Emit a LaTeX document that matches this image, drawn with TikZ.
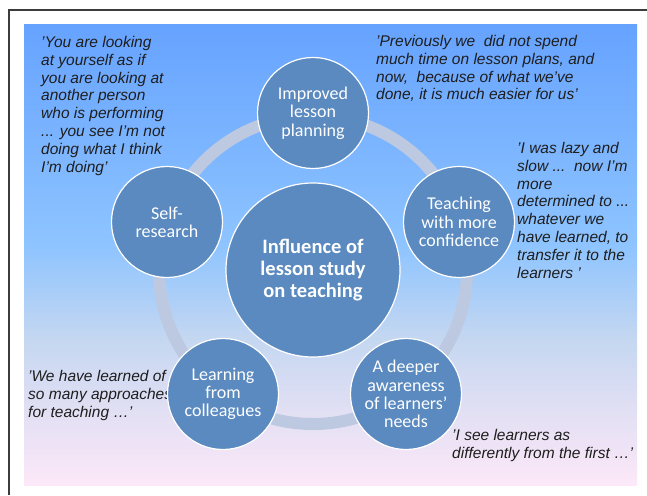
\documentclass[tikz,border=0pt]{standalone}
\usepackage{fontspec}
\setmainfont{Liberation Sans}
\newfontfamily\carlito{Carlito}
\usetikzlibrary{positioning, calc}
\definecolor{bubblec}{HTML}{5A8AC0}
\definecolor{ringc}{HTML}{BCC9E0}
\definecolor{skytop}{HTML}{66A3FF}
\definecolor{skymid}{HTML}{8EC4FF}
\definecolor{skylow}{HTML}{C4D7F1}
\definecolor{skymist}{HTML}{E4E0F4}
\definecolor{skybot}{HTML}{FCE8F8}
\definecolor{quotec}{HTML}{1E1E1E}
\definecolor{framec}{HTML}{3C3C3C}
% the shaded path covers 25bp to 75bp of the shading
\pgfdeclareverticalshading{sky}{100bp}{color(0bp)=(skybot); color(25bp)=(skybot);
  color(32.5bp)=(skymist); color(41bp)=(skylow); color(51bp)=(skymid);
  color(75bp)=(skytop); color(100bp)=(skytop)}
\tikzstyle{bubble} = [circle, fill=bubblec, draw=white, line width=1.2pt,
  minimum size=111pt, inner sep=0pt, text=white, align=center,
  font=\carlito\fontsize{18}{18.3}\selectfont]
\tikzstyle{hub} = [bubble, minimum size=174pt,
  font=\carlito\bfseries\fontsize{20.5}{21.7}\selectfont]
\tikzstyle{saying} = [anchor=north west, inner sep=0pt, align=left,
  text=quotec, font=\itshape\fontsize{15.5}{17.8}\selectfont]
\tikzstyle{ring} = [draw=ringc, line width=12pt]
\tikzstyle{frame} = [draw=framec, line width=1.2pt]

\begin{document}
\begin{tikzpicture}[x=1pt, y=-1pt]
    \useasboundingbox (0,0) rectangle (647,495);
    %%% Page and slide:
    \draw[frame] (647,10) -- (9,10) -- (9,495);
    \shade[shading=sky] (24,25) rectangle (637,485);
    %%% Ring:
    \coordinate (mid) at (313,270);
    \draw[ring] (mid) circle [radius=154pt];
    %%% Quotes:
    \node[saying] (qself) at (41,36) {'You are looking\\at yourself as if\\you are looking at\\another person\\who is performing\\... you see I’m not\\doing what I think\\I’m doing'};
    \node[saying] (qplan) at (376,35) {'Previously we\ \ did not spend\\much time on lesson plans, and\\now,\ \ because of what we’ve\\done, it is much easier for us'};
    \node[saying] (qconf) at (517,142) {'I was lazy and\\slow ...\ \ now I’m\\more\\determined to ...\\whatever we\\have learned, to\\transfer it to the\\learners '};
    \node[saying] (qcoll) at (28,370) {'We have learned of\\so many approaches\\for teaching \ldots'};
    \node[saying] (qaware) at (452,429) {'I see learners as\\differently from the first \ldots'};
    %%% Circles:
    \node[hub] (hub) at (mid) {Influence of\\lesson study\\on teaching};
    \node[bubble] (plan) at (313,113) {Improved\\lesson\\planning};
    \node[bubble] (self) at (167,222) {Self-\\research};
    \node[bubble] (conf) at (459,222) {Teaching\\with more\\confidence};
    \node[bubble] (coll) at (223,394) {Learning\\from\\colleagues};
    \node[bubble] (aware) at (406,394) {A deeper\\awareness\\of learners’\\needs};
  \end{tikzpicture}
\end{document}
